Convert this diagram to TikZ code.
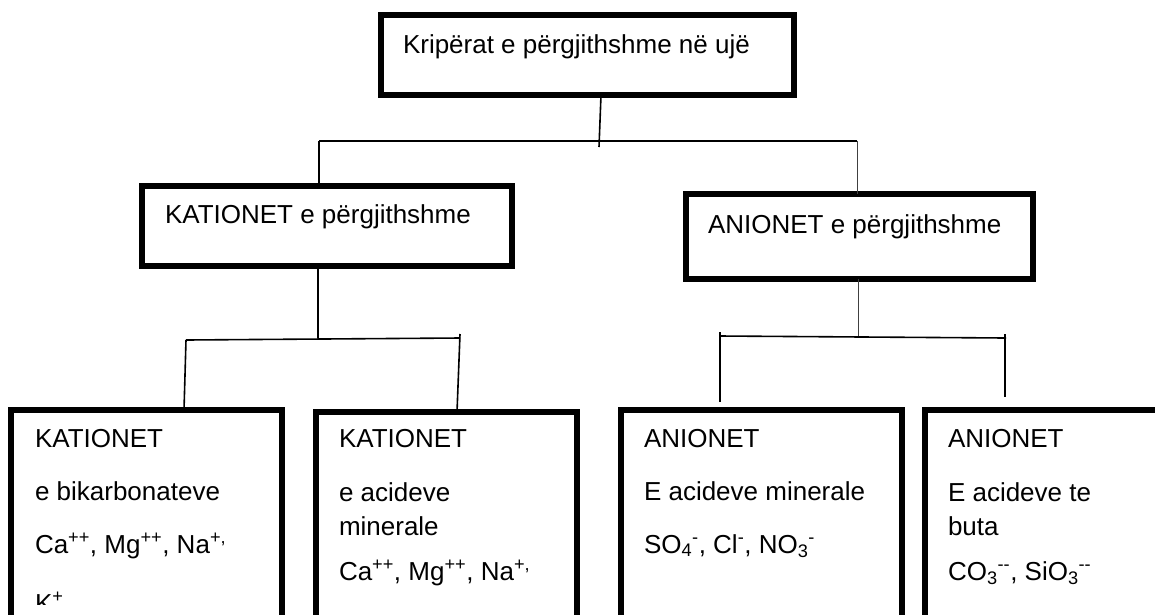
\documentclass[tikz,border=0pt]{standalone}
\usepackage{fontspec}
\setmainfont{Liberation Sans}
\begin{document}
\begin{tikzpicture}[x=1pt,y=-1pt,
  box/.style={draw, line width=6.5pt, inner sep=0pt, outer sep=0pt, anchor=north west},
  conn/.style={line width=1.6pt},
  thinconn/.style={line width=1pt, black!75},
  lbl/.style={anchor=base west, inner sep=0pt, outer sep=0pt, font=\fontsize{26}{30}\selectfont}]
\useasboundingbox (0,0) rectangle (1155,614);
\clip (0,0) rectangle (1155,614);

% boxes
\node[box, minimum width=413pt, minimum height=80pt] (top) at (381,15) {};
\node[box, minimum width=370pt, minimum height=80pt] (kat) at (142,186) {};
\node[box, minimum width=347pt, minimum height=85pt] (ani) at (686,194) {};
\node[box, minimum width=271pt, minimum height=240pt] (b1) at (11,410) {};
\node[box, minimum width=261pt, minimum height=240pt] (b2) at (316,412) {};
\node[box, minimum width=281pt, minimum height=240pt] (b3) at (621,410) {};
\node[box, minimum width=260pt, minimum height=240pt] (b4) at (925,410) {};

% texts
\node[lbl] (t0) at (403,53) {Kripërat e përgjithshme në ujë};
\node[lbl] (t1) at (165,223) {KATIONET e përgjithshme};
\node[lbl] (t2) at (708,233) {ANIONET e përgjithshme};

\node[lbl] (b1a) at (35,447) {KATIONET};
\node[lbl] (b1b) at (35,500) {e bikarbonateve};
\node[lbl] (b1c) at (35,553) {Ca\textsuperscript{++}, Mg\textsuperscript{++}, Na\textsuperscript{+,}};
\begin{scope}
  \clip (0,400) rectangle (300,604);
  \node[lbl] (b1d) at (35,612) {K\textsuperscript{+}};
\end{scope}

\node[lbl] (b2a) at (339,447) {KATIONET};
\node[lbl] (b2b) at (339,501) {e acideve};
\node[lbl] (b2c) at (339,535) {minerale};
\node[lbl] (b2d) at (339,580) {Ca\textsuperscript{++}, Mg\textsuperscript{++}, Na\textsuperscript{+,}};

\node[lbl] (b3a) at (644,447) {ANIONET};
\node[lbl] (b3b) at (644,500) {E acideve minerale};
\node[lbl] (b3c) at (644,553) {SO\textsubscript{4}\textsuperscript{-}, Cl\textsuperscript{-}, NO\textsubscript{3}\textsuperscript{-}};

\node[lbl] (b4a) at (948,447) {ANIONET};
\node[lbl] (b4b) at (948,501) {E acideve te};
\node[lbl] (b4c) at (948,535) {buta};
\node[lbl] (b4d) at (948,580) {CO\textsubscript{3}\textsuperscript{{-}{-}}, SiO\textsubscript{3}\textsuperscript{{-}{-}}};

% junction coordinates
\coordinate (xa) at (601,0);
\coordinate (s0) at (599,147);
\coordinate (hL) at (319,141);
\coordinate (hR) at (857,141);

\coordinate (k0) at (318,338);
\coordinate (kL) at (186,340);
\coordinate (kLb) at (184,0);
\coordinate (kR) at (460,338);
\coordinate (kRt) at (460,334);
\coordinate (kRb) at (457,0);

\coordinate (a0) at (858,337);
\coordinate (aL) at (720,336);
\coordinate (aR) at (1006,338);
\coordinate (aLt) at (720,332);
\coordinate (aLb) at (720,402);
\coordinate (aRt) at (1005,334);
\coordinate (aRb) at (1005,397);

% connectors level 1
\draw[conn] (top.south -| xa) -- (s0);
\draw[conn] (hL) -- (hR);
\draw[conn] (hL) -- (kat.north -| hL);
\draw[thinconn] (hR) -- (ani.north -| hR);

% connectors from KATIONET
\draw[conn] (kat.south -| k0) -- (k0);
\draw[conn] (kL) -- (kR);
\draw[conn] (kL) -- (b1.north -| kLb);
\draw[conn] (kRt) -- (b2.north -| kRb);

% connectors from ANIONET
\draw[thinconn] (ani.south -| a0) -- (a0);
\draw[conn] (aL) -- (aR);
\draw[conn] (aLt) -- (aLb);
\draw[conn] (aRt) -- (aRb);
\end{tikzpicture}
\end{document}
